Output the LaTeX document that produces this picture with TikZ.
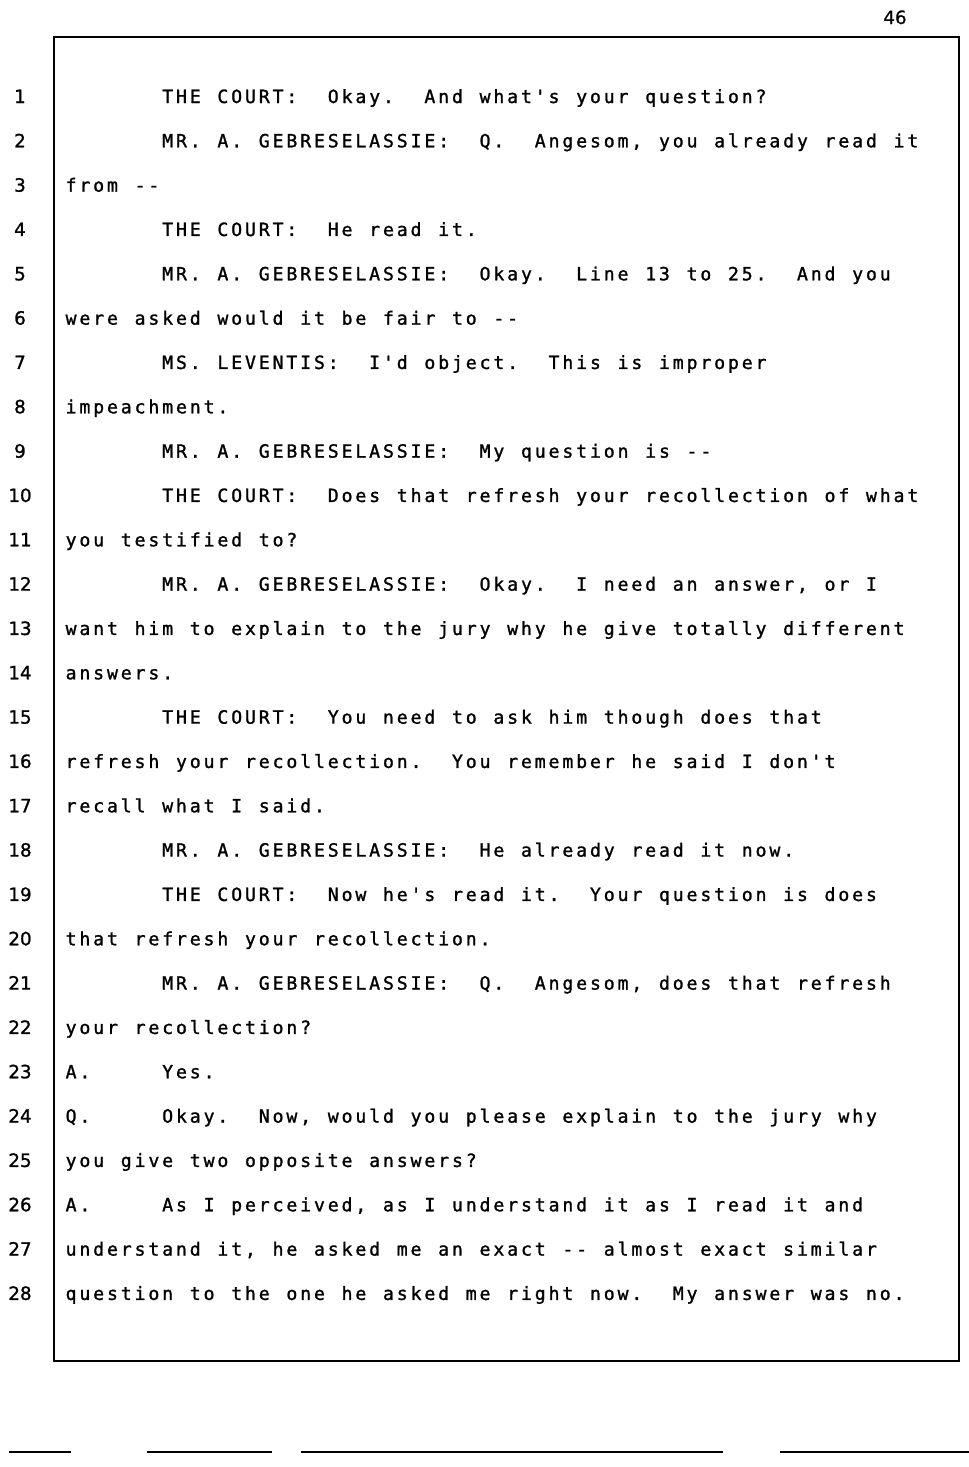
\documentclass[tikz,border=0pt]{standalone}
\usepackage{fontspec}
\setmonofont[FakeBold=1.3]{DejaVu Sans Mono}
\newfontfamily\numfont[FakeBold=1.2]{DejaVu Sans}
\newfontfamily\pgfont[FakeBold=0.6]{DejaVu Sans}
\ExplSyntaxOn
\cs_new_protected:Npn \monoline #1
  {
    \str_map_inline:nn {#1}
      {
        \str_if_eq:nnTF {##1} { * }
          { \hbox_to_wd:nn { 13.8pt } { \hfil } }
          { \hbox_to_wd:nn { 13.8pt } { \hfil ##1 \hfil } }
      }
  }
\ExplSyntaxOff
\tikzset{
  txt/.style={anchor=base west, inner sep=0pt, font=\ttfamily\fontsize{18.2pt}{20pt}\selectfont},
  lnum/.style={anchor=base, inner sep=0pt, font=\numfont\fontsize{18.3pt}{20pt}\selectfont},
  pnum/.style={anchor=base, inner sep=0pt, font=\pgfont\fontsize{18.3pt}{20pt}\selectfont},
  frame/.style={line width=2.5pt},
  rule/.style={line width=1.6pt}
}
\begin{document}
\begin{tikzpicture}[x=1pt,y=-1pt]
\useasboundingbox (0,0) rectangle (969,1467);
\node[pnum] (pg) at (895,24) {46};
\draw[frame] (54,37) rectangle (959,1361);
\def\L{64}\def\I{160.6}
\foreach \n/\x/\t in {
1/\I/{THE COURT: *Okay. *And what's your question?},
2/\I/{MR. A. GEBRESELASSIE: *Q. *Angesom, you already read it},
3/\L/{from --},
4/\I/{THE COURT: *He read it.},
5/\I/{MR. A. GEBRESELASSIE: *Okay. *Line 13 to 25. *And you},
6/\L/{were asked would it be fair to --},
7/\I/{MS. LEVENTIS: *I'd object. *This is improper},
8/\L/{impeachment.},
9/\I/{MR. A. GEBRESELASSIE: *My question is --},
10/\I/{THE COURT: *Does that refresh your recollection of what},
11/\L/{you testified to?},
12/\I/{MR. A. GEBRESELASSIE: *Okay. *I need an answer, or I},
13/\L/{want him to explain to the jury why he give totally different},
14/\L/{answers.},
15/\I/{THE COURT: *You need to ask him though does that},
16/\L/{refresh your recollection. *You remember he said I don't},
17/\L/{recall what I said.},
18/\I/{MR. A. GEBRESELASSIE: *He already read it now.},
19/\I/{THE COURT: *Now he's read it. *Your question is does},
20/\L/{that refresh your recollection.},
21/\I/{MR. A. GEBRESELASSIE: *Q. *Angesom, does that refresh},
22/\L/{your recollection?},
23/\L/{A. ****Yes.},
24/\L/{Q. ****Okay. *Now, would you please explain to the jury why},
25/\L/{you give two opposite answers?},
26/\L/{A. ****As I perceived, as I understand it as I read it and},
27/\L/{understand it, he asked me an exact -- almost exact similar},
28/\L/question to the one he asked me right now. *My answer was no.}{
  \pgfmathsetmacro\yy{103+(\n-1)*44.33}
  \node[lnum] (n\n) at (20,\yy) {\n};
  \node[txt] (t\n) at (\x,\yy) {\expandafter\monoline\expandafter{\t}};
}
\coordinate (a1) at (9,1452); \coordinate (a2) at (71,1452);
\coordinate (b1) at (147,1452); \coordinate (b2) at (272,1452);
\coordinate (c1) at (301,1452); \coordinate (c2) at (723,1452);
\coordinate (d1) at (780,1452); \coordinate (d2) at (969,1452);
\draw[rule] (a1) -- (a2);
\draw[rule] (b1) -- (b2);
\draw[rule] (c1) -- (c2);
\draw[rule] (d1) -- (d2);
\end{tikzpicture}
\end{document}
